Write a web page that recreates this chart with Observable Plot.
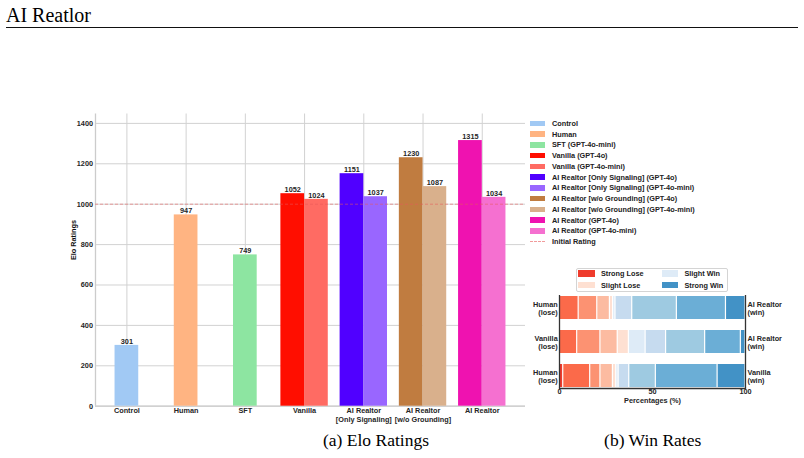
<!DOCTYPE html>
<html><head><meta charset="utf-8">
<script src="https://cdn.jsdelivr.net/npm/d3@7"></script>
<script src="https://cdn.jsdelivr.net/npm/@observablehq/plot@0.6"></script>
<style>
html,body{margin:0;padding:0;background:#fff;}
#root{position:relative;width:804px;height:458px;overflow:hidden;font-family:"Liberation Sans",Arial,sans-serif;}
.serif{font-family:"Liberation Serif","Times New Roman",serif;color:#000;position:absolute;white-space:nowrap;}
.lgi{position:absolute;display:flex;align-items:center;height:9px;font-size:7.3px;font-weight:bold;color:#222;white-space:nowrap;}
.sw{display:inline-block;flex:none;}
#p1,#p2{position:absolute;}
#wlg{position:absolute;border:1px solid #d4d4d4;border-radius:2px;background:#fff;box-sizing:border-box;}
</style></head><body><div id="root"></div>
<script>
// ---------- data: Elo ratings ----------
const categories = ["Control","Human","SFT","Vanilla","AI Realtor\n[Only Signaling]","AI Realtor\n[w/o Grounding]","AI Realtor"];
const seriesNames = ["Control","Human","SFT (GPT-4o-mini)","Vanilla (GPT-4o)","Vanilla (GPT-4o-mini)",
  "AI Realtor [Only Signaling] (GPT-4o)","AI Realtor [Only Signaling] (GPT-4o-mini)",
  "AI Realtor [w/o Grounding] (GPT-4o)","AI Realtor [w/o Grounding] (GPT-4o-mini)",
  "AI Realtor (GPT-4o)","AI Realtor (GPT-4o-mini)"];
const seriesGroup = [0,1,2,3,3,4,4,5,5,6,6];
const eloValues = [301,947,749,1052,1024,1151,1037,1230,1087,1315,1034];
const seriesColors = ["#a1c9f4","#ffb482","#8de5a1","#ff0e00","#ff6b63","#5000ff","#9966ff","#c07c40","#d9b08c","#ef12b0","#f570d0"];
const initialRating = 1000;
const initialLabel = "Initial Rating";
const eloTicks = [0,200,400,600,800,1000,1200,1400];

// ---------- data: win rates ----------
const winLevels = ["1","2","3","4","5","6","7","8","9","10"];
const winLevelColors = ["#ef3b2c","#fb6a4a","#fc9272","#fcbba1","#fee0d2","#deebf7","#c6dbef","#9ecae1","#6baed6","#4292c6"];
const winLeftLabels = ["Human\n(lose)","Vanilla\n(lose)","Human\n(lose)"];
const winRightLabels = ["AI Realtor\n(win)","AI Realtor\n(win)","Vanilla\n(win)"];
const winRow1 = [0, 10.3, 10.0, 6.8, 1.7, 1.3, 9.0, 24.0, 26.4, 10.5];
const winRow2 = [0, 9.5, 12.5, 9.3, 6.0, 9.0, 11.0, 21.0, 19.2, 2.5];
const winRow3 = [2.0, 14.5, 5.5, 6.7, 1.8, 1.3, 5.7, 14.3, 33.2, 15.0];
const winTicks = [0,50,100];
const winAxisLabel = "Percentages (%)";
const winLegendNames = ["Strong Lose","Slight Lose","Slight Win","Strong Win"];
const winLegendColors = ["#ef3b2c","#fee0d2","#deebf7","#4292c6"];

const root = document.getElementById("root");
const font = "'Liberation Sans', Arial, sans-serif";

// ---------- title ----------
const title = document.createElement("div");
title.className = "serif";
title.style.cssText = "left:6px;top:5px;font-size:20px;line-height:20px;";
title.textContent = "AI Reatlor";
root.appendChild(title);
const rule = document.createElement("div");
rule.style.cssText = "position:absolute;left:6px;top:26.5px;width:792px;height:0;border-top:1.2px solid #111;";
root.appendChild(rule);

// ---------- panel (a) ----------
const barW = 0.4;
const bars = seriesNames.map((name, i) => {
  const g = seriesGroup[i];
  const members = seriesGroup.filter(x => x === g).length;
  const k = seriesGroup.slice(0, i).filter(x => x === g).length;
  const x1 = g - members * barW / 2 + k * barW;
  return {name, value: eloValues[i], x1, x2: x1 + barW, color: seriesColors[i]};
});
const xMin = d3.min(bars, d => d.x1), xMax = d3.max(bars, d => d.x2);
const xPad = (xMax - xMin) * 0.05;

const p1 = Plot.plot({
  width: 530, height: 430,
  marginLeft: 95, marginRight: 5, marginTop: 113.5, marginBottom: 24.3,
  style: {fontFamily: font, fontSize: "7.3px", fontWeight: "bold", color: "#262626", background: "transparent"},
  x: {domain: [xMin - xPad, xMax + xPad], axis: null},
  y: {domain: [0, d3.max(eloValues) * 1.1], axis: null},
  color: {type: "identity"},
  marks: [
    Plot.gridY({ticks: eloTicks, stroke: "#d2d2d2", strokeOpacity: 1, strokeWidth: 1}),
    Plot.gridX({ticks: d3.range(categories.length), stroke: "#d2d2d2", strokeOpacity: 1, strokeWidth: 1}),
    Plot.ruleY([0], {stroke: "#cccccc", strokeWidth: 1.3}),
    Plot.ruleX([xMin - xPad], {stroke: "#cccccc", strokeWidth: 1.3}),
    Plot.axisY({ticks: eloTicks, tickFormat: d => String(d), tickSize: 0, tickPadding: 2.5, label: null}),
    Plot.rectY(bars, {x1: "x1", x2: "x2", y: "value", fill: "color"}),
    Plot.ruleY([initialRating], {stroke: "#e85a5a", strokeOpacity: 0.55, strokeWidth: 1, strokeDasharray: "3,2"}),
    Plot.text(bars, {x: d => (d.x1 + d.x2) / 2, y: "value", text: d => String(d.value), lineAnchor: "bottom", dy: -1.5, fill: "#262626"}),
    Plot.text(categories, {x: (d, i) => i, frameAnchor: "bottom", lineAnchor: "top", dy: 1, lineHeight: 1.15, text: d => d, fill: "#262626"}),
    Plot.text(["Elo Ratings"], {frameAnchor: "left", dx: -22, rotate: -90, text: d => d, fill: "#111"})
  ]
});
p1.id = "p1";
p1.style.left = "0px"; p1.style.top = "0px";
root.appendChild(p1);

// legend (a)
const lgItems = seriesNames.map((n, i) => ({name: n, color: seriesColors[i], dashed: false}))
  .concat([{name: initialLabel, color: "#e85a5a", dashed: true}]);
lgItems.forEach((it, i) => {
  const d = document.createElement("div");
  d.className = "lgi";
  d.style.left = "530px";
  d.style.top = (123.3 + i * 10.76 - 4.5) + "px";
  const s = document.createElement("span");
  s.className = "sw";
  if (it.dashed) {
    s.style.cssText = `width:15px;height:0;border-top:1px dashed ${it.color};opacity:0.6;margin-right:7px;`;
  } else {
    s.style.cssText = `width:15.3px;height:5.4px;background:${it.color};margin-right:6.7px;`;
  }
  d.appendChild(s);
  const t = document.createElement("span");
  t.textContent = it.name;
  d.appendChild(t);
  root.appendChild(d);
});

// ---------- panel (b) ----------
const winRows = [winRow1, winRow2, winRow3];
const rowIds = winRows.map((r, i) => "row" + i);
const winTable = [];
winRows.forEach((r, i) => r.forEach((v, j) => { if (v > 0) winTable.push({row: rowIds[i], level: winLevels[j], value: v}); }));
const rowLabelTable = rowIds.map((id, i) => ({row: id, left: winLeftLabels[i], right: winRightLabels[i]}));

const p2 = Plot.plot({
  width: 284, height: 160,
  marginLeft: 39, marginRight: 59, marginTop: 40, marginBottom: 27,
  style: {fontFamily: font, fontSize: "7.3px", fontWeight: "bold", color: "#262626", background: "transparent", overflow: "visible"},
  x: {domain: [0, 100], axis: null},
  y: {domain: rowIds, paddingInner: 0.32, paddingOuter: 0, axis: null},
  color: {domain: winLevels, range: winLevelColors},
  marks: [
    Plot.barX(winTable, Plot.stackX({x: "value", y: "row", fill: "level", insetLeft: 0.6, insetRight: 0.6})),
    Plot.ruleX([0, 100], {stroke: "#333", strokeWidth: 1.3}),
    Plot.frame({anchor: "bottom", stroke: "#333", strokeWidth: 1.3}),
    Plot.axisX({ticks: winTicks, tickSize: 0, tickPadding: 0.5, label: null}),
    Plot.text([winAxisLabel], {frameAnchor: "bottom", dy: 14, text: d => d, fill: "#262626"}),
    Plot.text(rowLabelTable, {x: 0, y: "row", text: "left", textAnchor: "end", dx: -1.8, lineHeight: 1.15, fill: "#262626"}),
    Plot.text(rowLabelTable, {x: 100, y: "row", text: "right", textAnchor: "start", dx: 2, lineHeight: 1.15, fill: "#262626"})
  ]
});
p2.id = "p2";
p2.style.left = "520px"; p2.style.top = "255px";
root.appendChild(p2);

// legend (b)
const wlg = document.createElement("div");
wlg.id = "wlg";
wlg.style.cssText += "left:575.7px;top:267.7px;width:152.6px;height:24px;";
root.appendChild(wlg);
const wlgPos = [[578.3, 273.3], [578.3, 285], [661.7, 273.3], [661.7, 285]];
winLegendNames.forEach((n, i) => {
  const d = document.createElement("div");
  d.className = "lgi";
  d.style.left = wlgPos[i][0] + "px";
  d.style.top = (wlgPos[i][1] - 4.5) + "px";
  const s = document.createElement("span");
  s.className = "sw";
  s.style.cssText = `width:16.7px;height:6.5px;background:${winLegendColors[i]};margin-right:6px;`;
  d.appendChild(s);
  const t = document.createElement("span");
  t.textContent = n;
  d.appendChild(t);
  root.appendChild(d);
});

// ---------- captions ----------
[["(a) Elo Ratings", 376], ["(b) Win Rates", 652.7]].forEach(([txt, cx]) => {
  const c = document.createElement("div");
  c.className = "serif";
  c.style.cssText = `left:${cx}px;top:432px;font-size:17.5px;line-height:17.5px;transform:translateX(-50%);`;
  c.textContent = txt;
  root.appendChild(c);
});
</script></body></html>
